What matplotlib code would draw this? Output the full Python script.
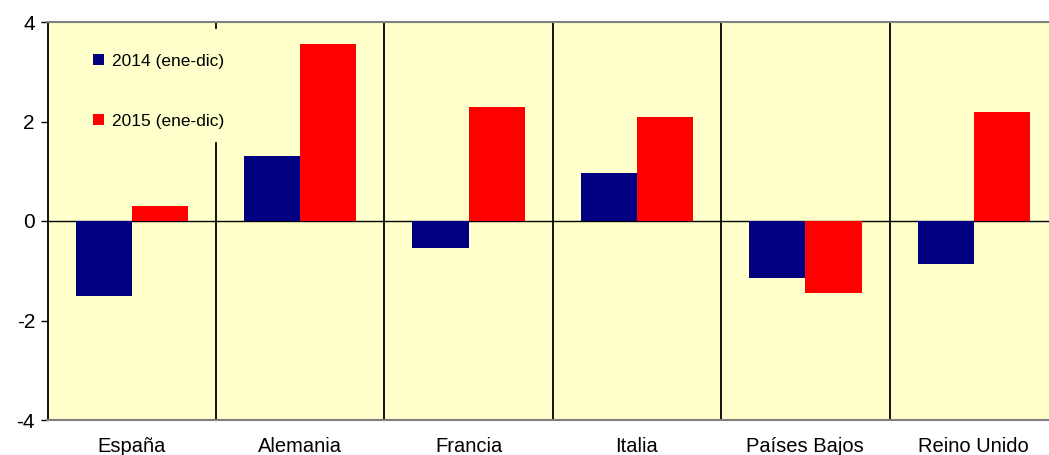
import numpy as np
import matplotlib
matplotlib.use("Agg")
import matplotlib.pyplot as plt
from matplotlib.patches import Patch

plt.rcParams['font.family'] = ['Liberation Sans', 'DejaVu Sans']
plt.rcParams['axes.unicode_minus'] = False

paises = ['España', 'Alemania', 'Francia', 'Italia', 'Países Bajos', 'Reino Unido']
v2014 = [-1.5, 1.3, -0.55, 0.97, -1.15, -0.87]
v2015 = [0.3, 3.55, 2.3, 2.1, -1.45, 2.2]
series = ['2014 (ene-dic)', '2015 (ene-dic)']
colores = ['#000080', '#FF0000']

fig = plt.figure(figsize=(10.49, 4.55), dpi=100)
# plot area runs past the right edge of the image, as in the original
ax = fig.add_axes([47.5/1049, 35/455, 1010.5/1049, 398/455])
ax.set_facecolor('#FFFFCC')

x = np.arange(len(paises))
w = 1/3
ax.bar(x - w/2, v2014, w, color=colores[0], zorder=3)
ax.bar(x + w/2, v2015, w, color=colores[1], zorder=3)

ax.set_xlim(-0.5, len(paises) - 0.5)
ax.set_ylim(-4, 4)
ax.set_yticks([-4, -2, 0, 2, 4])
ax.set_xticks(x)
ax.set_xticklabels(paises)
ax.tick_params(axis='x', length=0, pad=12.5, labelsize=14.5)
ax.tick_params(axis='y', length=5, width=1, labelsize=15, pad=4)

ax.axhline(0, color='black', lw=1, zorder=2)
for s in np.arange(0.5, len(paises) - 0.5):
    if s == 0.5:
        # legend sits over the first separator
        ax.axvline(s, ymin=0.985, ymax=1, color='black', lw=1.3, zorder=2)
        ax.axvline(s, ymin=0, ymax=0.696, color='black', lw=1.3, zorder=2)
    else:
        ax.axvline(s, color='black', lw=1.3, zorder=2)

ax.spines['left'].set_color('black')
ax.spines['left'].set_linewidth(1.3)
ax.spines['top'].set_color('#808080')
ax.spines['bottom'].set_color('#808080')
ax.spines['top'].set_linewidth(1.5)
ax.spines['bottom'].set_linewidth(1.5)
ax.spines['right'].set_visible(False)

handles = [Patch(facecolor=c, edgecolor='none') for c in colores]
fig.legend(handles, series, loc='upper left', bbox_to_anchor=(0.089, 0.882),
           frameon=False, fontsize=12.5, handlelength=0.6, handleheight=0.6,
           handletextpad=0.45, labelspacing=2.6, borderpad=0, borderaxespad=0)

fig.savefig('out.png', dpi=100)
